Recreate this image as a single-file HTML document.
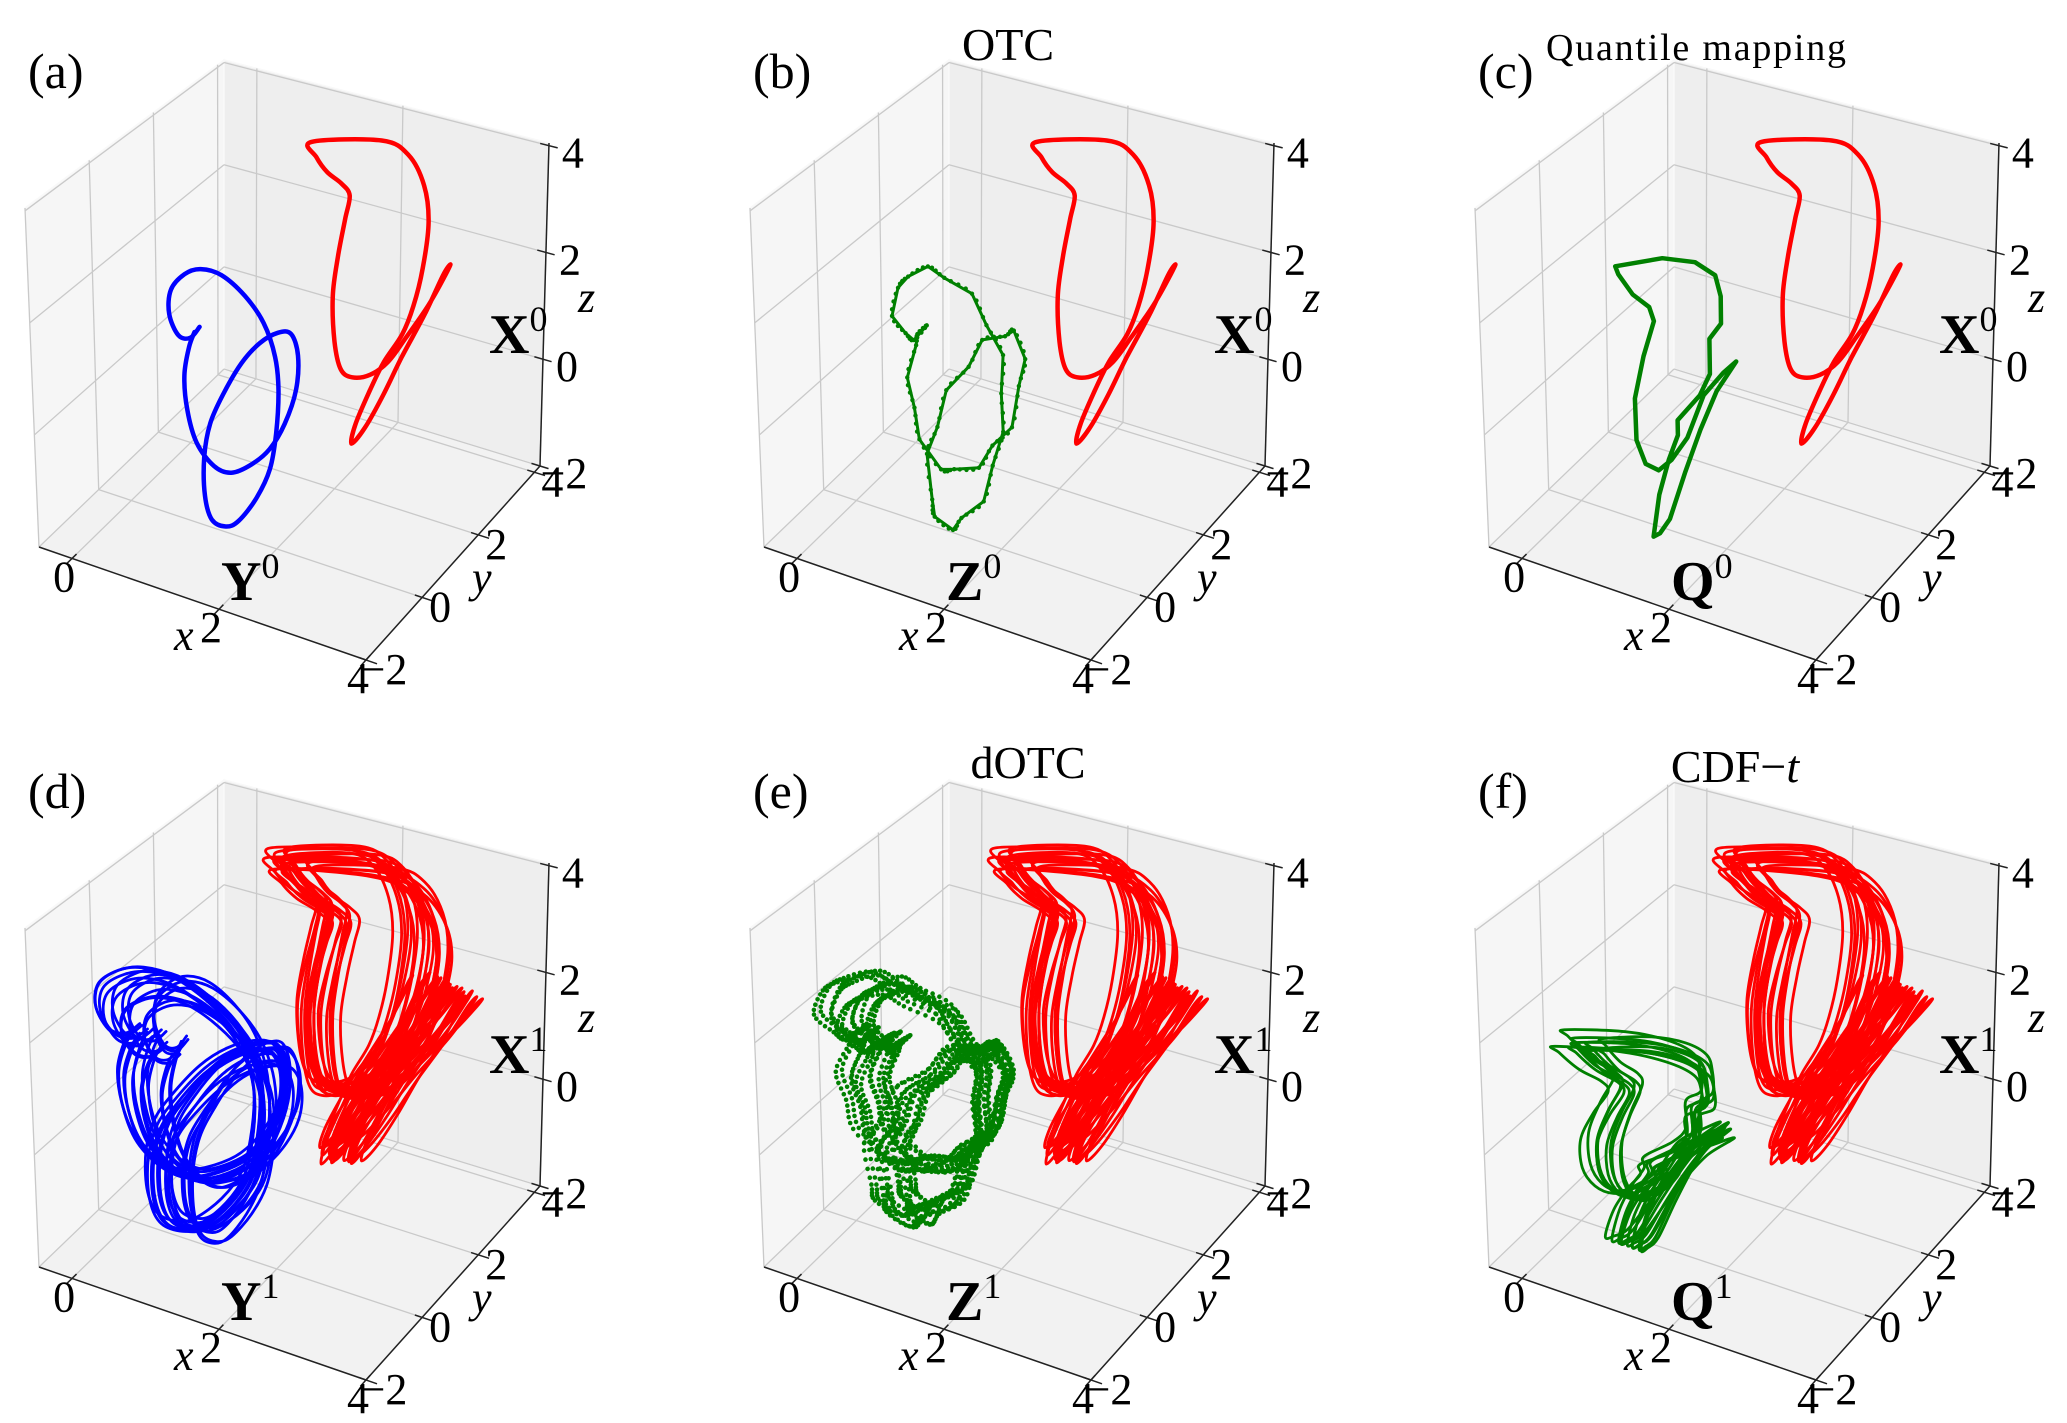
<!DOCTYPE html>
<html><head><meta charset="utf-8">
<style>
html,body{margin:0;padding:0;background:#fff;}
svg{display:block;font-family:"Liberation Serif",serif;}
</style></head>
<body>
<svg id="fig" xmlns="http://www.w3.org/2000/svg" width="2067" height="1423" viewBox="0 0 2067 1423"></svg>
<script>
// ---- data (curve samples in axis coordinates x,z at a fixed y) ----
const xTicks = [0, 2, 4];
const yTicks = [-2, 0, 2, 4];
const zTicks = [-2, 0, 2, 4];
const xTickLabels = ["0", "2", "4"];
const yTickLabels = ["\u22122", "0", "2", "4"];
const zTickLabels = ["\u22122", "0", "2", "4"];

const redX = [0.84,1.80,2.17,2.39,2.46,2.39,2.27,2.12,1.87,1.68,1.49,1.43,1.62,1.87,2.12,2.43,2.67,2.77,2.70,2.48,2.17,1.93,1.68,1.43,1.27,1.18,1.15,1.22,1.31,1.37,1.25,1.06,0.91];
const redZ = [3.03,3.41,3.27,2.77,2.10,1.20,0.44,-0.16,-0.79,-1.41,-2.11,-2.53,-2.14,-1.41,-0.59,0.35,1.17,1.42,1.18,0.54,-0.21,-0.76,-1.11,-1.26,-1.17,-0.68,0.19,1.00,1.72,2.20,2.39,2.53,2.76];
const redY = 4;

const blueX = [0.99,0.86,0.70,0.58,0.61,0.80,1.02,1.30,1.61,1.86,2.01,2.05,2.01,1.92,1.73,1.48,1.30,1.11,1.02,1.02,1.11,1.30,1.55,1.80,2.05,2.23,2.32,2.29,2.13,1.92,1.67,1.39,1.15,0.92,0.80,0.77,0.84,0.92];
const blueZ = [1.58,1.33,1.31,1.65,2.10,2.46,2.64,2.64,2.39,2.00,1.45,0.86,0.07,-0.60,-1.20,-1.72,-1.90,-1.86,-1.47,-0.77,-0.12,0.50,1.15,1.61,1.90,1.95,1.60,0.98,0.30,-0.24,-0.62,-0.89,-0.87,-0.55,0.00,0.61,1.15,1.46];
const blueY = 0;

const otcX = [1.02,0.84,0.73,0.55,0.64,0.78,1.05,1.27,1.64,1.83,2.05,2.02,2.04,1.89,1.76,1.45,1.33,1.08,1.05,0.99,1.14,1.27,1.58,1.77,2.08,2.20,2.35,2.26,2.16,1.89,1.70,1.36,1.18,0.89,0.83,0.74,0.87,0.89];
const otcZ = [1.62,1.28,1.36,1.60,2.15,2.41,2.70,2.58,2.44,1.95,1.50,0.80,0.12,-0.55,-1.25,-1.68,-1.95,-1.82,-1.52,-0.72,-0.17,0.55,1.10,1.66,1.85,2.00,1.55,1.03,0.25,-0.19,-0.67,-0.84,-0.92,-0.50,0.05,0.56,1.20,1.41];

const qmX = [0.54,1.18,1.62,1.89,1.96,1.96,1.80,1.80,1.66,1.35,1.35,1.22,1.08,0.99,1.08,1.22,1.44,1.66,1.89,2.16,1.98,1.71,1.48,1.26,1.08,0.90,0.78,0.77,0.90,1.05,0.99,0.77,0.58];
const qmZ = [2.50,2.90,3.00,2.87,2.52,2.03,1.69,1.06,0.62,0.04,-0.23,-0.73,-1.42,-2.22,-2.12,-1.80,-0.87,0.00,0.79,1.43,1.15,0.64,-0.22,-0.71,-0.98,-0.94,-0.56,0.19,1.01,1.71,1.94,2.08,2.37];

// bottom-row trajectories: variants of the loops (scale in x, scale in z, shift x, shift z)
const x1ScaleX = [1.00,1.15,0.95,1.30,1.05,1.40,1.10,0.98,1.25,1.20,1.35,1.08,1.18,1.28,0.92,1.12,1.38,1.02,1.22,1.32];
const x1ScaleZ = [1.00,0.97,1.02,0.93,1.04,0.90,0.98,1.01,0.95,0.99,0.92,1.03,0.96,0.94,1.00,0.97,0.91,1.02,0.98,0.95];
const x1ShiftX = [0.00,-0.15,-0.30,-0.10,-0.40,0.10,-0.25,-0.05,0.15,-0.35,-0.05,-0.20,0.05,-0.15,-0.45,0.20,-0.10,-0.30,0.00,-0.25];
const x1ShiftZ = [0.00,0.05,-0.05,0.08,-0.08,0.02,-0.10,0.06,-0.03,0.09,-0.06,0.04,-0.09,0.07,-0.02,0.03,-0.07,0.10,-0.04,0.01];

const y1ScaleX = [1.00,1.20,1.35,1.10,1.50,1.25,1.40,1.05,1.30,1.45,1.15,1.55,1.22,1.38,1.12,1.28];
const y1ScaleZ = [0.95,0.92,1.00,0.88,1.02,0.96,0.90,1.04,0.94,0.98,0.86,1.00,0.93,0.97,1.01,0.89];
const y1ShiftX = [-0.20,-0.35,-0.45,-0.25,-0.55,-0.40,-0.30,-0.15,-0.50,-0.60,-0.20,-0.45,-0.35,-0.55,-0.10,-0.40];
const y1ShiftZ = [0.05,0.00,0.10,-0.05,0.05,0.15,-0.10,0.08,0.00,0.12,-0.08,0.04,0.18,-0.02,0.06,-0.12];

const z1ScaleX = [1.00,1.15,1.30,1.10,1.40,1.25,1.05,1.35,1.20,1.45,1.12,1.28];
const z1ScaleZ = [0.90,0.85,0.95,0.80,0.92,0.88,0.83,0.97,0.86,0.90,0.94,0.82];
const z1ShiftX = [-0.30,-0.40,-0.55,-0.25,-0.60,-0.45,-0.20,-0.50,-0.35,-0.65,-0.30,-0.50];
const z1ShiftZ = [0.10,0.20,0.05,0.25,0.15,0.00,0.30,0.10,0.22,0.08,0.18,0.02];

const q1ScaleX = [1.00,1.15,1.30,1.10,1.25,1.40,1.05,1.20,1.35,1.18];
const q1ScaleZ = [0.73,0.70,0.76,0.71,0.74,0.68,0.77,0.72,0.70,0.74];
const q1ShiftX = [-0.20,-0.30,-0.45,-0.25,-0.35,-0.50,-0.15,-0.40,-0.30,-0.22];

// ---- axes geometry ----
const XMIN=-0.45, XMAX=4, YMIN=-2, YMAX=4.2, ZMIN=-2, ZMAX=4.05;
const C = {F1:[39,547],F2:[366,660],R:[540,466],B:[224,369],F1t:[25,208],F2t:[362,307],Rt:[549,143],Bt:[224,60]};
function lerp(a,b,t){return [a[0]+(b[0]-a[0])*t, a[1]+(b[1]-a[1])*t];}
function proj(x,y,z){
  const u=(x-XMIN)/(XMAX-XMIN), v=(y-YMIN)/(YMAX-YMIN), w=(z-ZMIN)/(ZMAX-ZMIN);
  const f=lerp(lerp(C.F1,C.F2,u), lerp(C.B,C.R,u), v);
  const t=lerp(lerp(C.F1t,C.F2t,u), lerp(C.Bt,C.Rt,u), v);
  return lerp(f,t,w);
}
const NS="http://www.w3.org/2000/svg";
const svg=document.getElementById("fig");
function mk(tag,parent){const e=document.createElementNS(NS,tag);parent.appendChild(e);return e;}
function poly(pts){return pts.map(p=>p.map(v=>v.toFixed(1)).join(",")).join(" ");}
function smoothD(pts,closed){
  const n=pts.length;let d="M"+pts[0][0].toFixed(1)+","+pts[0][1].toFixed(1);
  const last=closed?n:n-1;
  for(let i=0;i<last;i++){
    const g=k=>closed?pts[(k+n)%n]:pts[Math.max(0,Math.min(n-1,k))];
    const p0=g(i-1),p1=g(i),p2=g(i+1),p3=g(i+2);
    const c1=[p1[0]+(p2[0]-p0[0])/6,p1[1]+(p2[1]-p0[1])/6];
    const c2=[p2[0]-(p3[0]-p1[0])/6,p2[1]-(p3[1]-p1[1])/6];
    d+="C"+c1[0].toFixed(1)+","+c1[1].toFixed(1)+" "+c2[0].toFixed(1)+","+c2[1].toFixed(1)+" "+p2[0].toFixed(1)+","+p2[1].toFixed(1);
  }
  return closed?d+"Z":d;
}
function curvePts(xs,zs,y,sx,sz,cx,cz,dx,dz){
  return xs.map((x,i)=>proj(cx+sx*(x-cx)+dx, y, cz+sz*(zs[i]-cz)+dz));
}
function sampleSmooth(pts,closed,per){
  const n=pts.length,out=[];const last=closed?n:n-1;
  for(let i=0;i<last;i++){
    const g=k=>closed?pts[(k+n)%n]:pts[Math.max(0,Math.min(n-1,k))];
    const p0=g(i-1),p1=g(i),p2=g(i+1),p3=g(i+2);
    for(let s=0;s<per;s++){const t=s/per,t2=t*t,t3=t2*t;
      out.push([0,1].map(k=>0.5*((2*p1[k])+(-p0[k]+p2[k])*t+(2*p0[k]-5*p1[k]+4*p2[k]-p3[k])*t2+(-p0[k]+3*p1[k]-3*p2[k]+p3[k])*t3)));}
  }
  return out;
}
function txt(parent,x,y,s,size,opts){
  const t=mk("text",parent);t.setAttribute("x",x);t.setAttribute("y",y);
  t.setAttribute("font-size",size);t.setAttribute("fill","#000");
  if(opts&&opts.anchor)t.setAttribute("text-anchor",opts.anchor);
  if(opts&&opts.italic)t.setAttribute("font-style","italic");
  if(opts&&opts.bold)t.setAttribute("font-weight","bold");
  t.textContent=s;return t;
}
function supLabel(parent,x,y,base,sup){
  const t=mk("text",parent);t.setAttribute("x",x);t.setAttribute("y",y);
  t.setAttribute("font-size",56);t.setAttribute("font-weight","bold");
  t.textContent=base;
  const s=mk("tspan",t);s.setAttribute("font-size",36);s.setAttribute("font-weight","normal");s.setAttribute("dy",-22);s.textContent=sup;
  return t;
}

function drawAxes(g){
  const panes=[
    ["left-pane",[C.F1,C.B,C.Bt,C.F1t],"#f6f6f6"],
    ["back-pane",[C.B,C.R,C.Rt,C.Bt],"#eeeeee"],
    ["floor-pane",[C.F1,C.F2,C.R,C.B],"#f2f2f2"]];
  panes.forEach(p=>{const e=mk("polygon",g);
    
    
    e.setAttribute("points",poly(p[1]));e.setAttribute("fill",p[2]);e.setAttribute("stroke","#f9f9f9");e.setAttribute("stroke-width","1.5");});
  const grid=mk("g",g);
  
  
  grid.setAttribute("stroke","#c9c9c9");grid.setAttribute("stroke-width","1.3");grid.setAttribute("fill","none");
  const line=(a,b)=>{const l=mk("line",grid);l.setAttribute("x1",a[0]);l.setAttribute("y1",a[1]);l.setAttribute("x2",b[0]);l.setAttribute("y2",b[1]);};
  xTicks.forEach(x=>{line(proj(x,YMIN,ZMIN),proj(x,YMAX,ZMIN));line(proj(x,YMAX,ZMIN),proj(x,YMAX,ZMAX));});
  yTicks.forEach(y=>{line(proj(XMIN,y,ZMIN),proj(XMAX,y,ZMIN));line(proj(XMIN,y,ZMIN),proj(XMIN,y,ZMAX));});
  zTicks.forEach(z=>{line(proj(XMIN,YMIN,z),proj(XMIN,YMAX,z));line(proj(XMIN,YMAX,z),proj(XMAX,YMAX,z));});
  const ax=mk("g",g);
  
  
  ax.setAttribute("stroke","#222");ax.setAttribute("stroke-width","1.5");
  const aline=(a,b)=>{const l=mk("line",ax);l.setAttribute("x1",a[0]);l.setAttribute("y1",a[1]);l.setAttribute("x2",b[0]);l.setAttribute("y2",b[1]);};
  aline(C.F1,C.F2);aline(C.F2,C.R);aline(C.R,C.Rt);
  xTicks.forEach(x=>aline(proj(x,YMIN+0.15,ZMIN),proj(x,YMIN-0.2,ZMIN)));
  yTicks.forEach(y=>aline(proj(XMAX-0.1,y,ZMIN),proj(XMAX+0.15,y,ZMIN)));
  zTicks.forEach(z=>aline(proj(XMAX-0.12,YMAX,z),proj(XMAX+0.12,YMAX,z)));
  const tl=mk("g",g);
  
  
  xTicks.forEach((x,i)=>{const p=proj(x,YMIN,ZMIN);txt(tl,p[0]-8,p[1]+33,xTickLabels[i],44,{anchor:"middle"});});
  yTicks.forEach((y,i)=>{const p=proj(XMAX,y,ZMIN);txt(tl,p[0]+18,p[1]+24,yTickLabels[i],44,{anchor:"middle"});});
  zTicks.forEach((z,i)=>{const p=proj(XMAX,YMAX,z);txt(tl,p[0]+24,p[1]+22,zTickLabels[i],44,{anchor:"middle"});});
  const xl=txt(g,174,650,"x",44,{italic:true});
  
  
  const yl=txt(g,472,592,"y",44,{italic:true});
  
  
  const zl=txt(g,578,312,"z",44,{italic:true});
  
  
}
function drawLine(g,pts,closed,color,width,name,smooth){
  const p=mk("path",g);
  
  
  p.setAttribute("d",smooth?smoothD(pts,closed):("M"+poly(pts).replace(/ /g," L")+(closed?"Z":"")));
  p.setAttribute("fill","none");p.setAttribute("stroke",color);p.setAttribute("stroke-width",width);
  p.setAttribute("stroke-linejoin","round");p.setAttribute("stroke-linecap","round");
  return p;
}
function drawRed0(g){drawLine(g,curvePts(redX,redZ,redY,1,1,0,0,0,0),true,"#ff0000",4.5,"x0-trajectory",true);}
function drawRed1(g){
  const rg=mk("g",g);
  
  
  x1ScaleX.forEach((s,i)=>drawLine(rg,curvePts(redX,redZ,redY,s,x1ScaleZ[i],1.9,0.2,x1ShiftX[i],x1ShiftZ[i]),true,"#ff0000",2.8,"x1-loop",true));
}
const panels=[
 {id:"a",col:0,row:0,title:null},
 {id:"b",col:1,row:0,title:"OTC"},
 {id:"c",col:2,row:0,title:"Quantile mapping"},
 {id:"d",col:0,row:1,title:null},
 {id:"e",col:1,row:1,title:"dOTC"},
 {id:"f",col:2,row:1,title:"CDF\u2212t"}];
const colX=[0,725,1450], rowY=[0,720];
panels.forEach(pn=>{
  const g=mk("g",svg);
  
  
  g.setAttribute("transform","translate("+colX[pn.col]+","+rowY[pn.row]+")");
  drawAxes(g);
  const sup=pn.row===0?"0":"1";
  if(pn.id==="a"){drawLine(g,curvePts(blueX,blueZ,blueY,1,1,0,0,0,0),false,"#0000ff",4.5,"y0-trajectory",true);drawRed0(g);}
  if(pn.id==="b"){drawLine(g,curvePts(otcX,otcZ,blueY,1,1,0,0,0,0),true,"#008000",3,"z0-trajectory",false);
    const pts=sampleSmooth(curvePts(otcX,otcZ,blueY,1,1,0,0,0,0),true,4);
    pts.forEach(p=>{const c=mk("circle",g);c.setAttribute("cx",p[0]);c.setAttribute("cy",p[1]);c.setAttribute("r",2.2);c.setAttribute("fill","#008000");});
    drawRed0(g);}
  if(pn.id==="c"){drawLine(g,curvePts(qmX,qmZ,blueY,1,1,0,0,0,0),true,"#008000",4.5,"q0-trajectory",false);drawRed0(g);}
  if(pn.id==="d"){
    const bg=mk("g",g);
    
    
    y1ScaleX.forEach((s,i)=>drawLine(bg,curvePts(blueX,blueZ,blueY,s,y1ScaleZ[i],1.45,0.4,y1ShiftX[i],y1ShiftZ[i]),false,"#0000ff",2.8,"y1-loop",true));
    drawRed1(g);}
  if(pn.id==="e"){
    const zg=mk("g",g);
    
    
    zg.setAttribute("fill","#008000");
    z1ScaleX.forEach((s,i)=>{
      const pts=sampleSmooth(curvePts(otcX,otcZ,blueY,s,z1ScaleZ[i],1.45,0.4,z1ShiftX[i],z1ShiftZ[i]),true,5);
      pts.forEach(p=>{const c=mk("circle",zg);c.setAttribute("cx",p[0].toFixed(1));c.setAttribute("cy",p[1].toFixed(1));c.setAttribute("r",2.3);});
    });
    drawRed1(g);}
  if(pn.id==="f"){
    const qg=mk("g",g);
    
    
    q1ScaleX.forEach((s,i)=>drawLine(qg,curvePts(qmX,qmZ,blueY,s,q1ScaleZ[i],1.4,-2,q1ShiftX[i],0),true,"#008000",2.8,"q1-loop",true));
    drawRed1(g);}
  const xl=supLabel(g,489,353,"X",sup);
  
  
  const other={a:"Y",b:"Z",c:"Q",d:"Y",e:"Z",f:"Q"}[pn.id];
  const ol=supLabel(g,221,600,other,sup);
  
  
  const pl=txt(g,28,88,"("+pn.id+")",50,{});
  
  
  if(pn.title){
    let t;
    if(pn.id==="f"){
      t=txt(g,285,62,"CDF\u2212",46,{anchor:"middle"});
      const it=mk("tspan",t);it.setAttribute("font-style","italic");it.textContent="t";
    } else if(pn.id==="c"){
      t=txt(g,246,60,pn.title,38,{anchor:"middle"});t.setAttribute("textLength","300");
    } else {
      t=txt(g,pn.id==="b"?283:303,pn.id==="b"?60:58,pn.title,46,{anchor:"middle"});
    }
    
    
  }
});
</script>
</body></html>
